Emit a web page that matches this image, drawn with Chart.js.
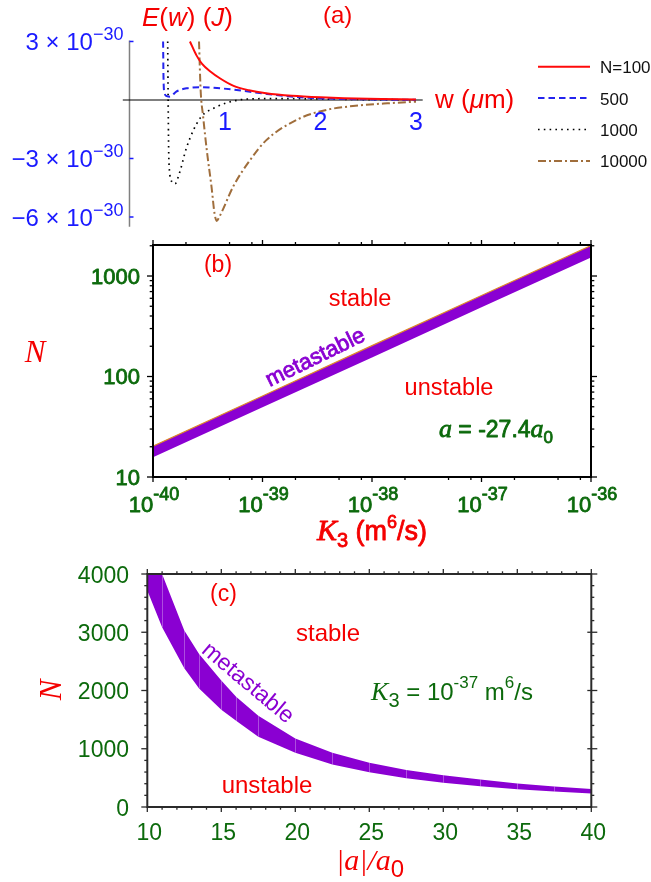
<!DOCTYPE html>
<html><head><meta charset="utf-8">
<script src="https://cdn.jsdelivr.net/npm/chart.js@4.4.1/dist/chart.umd.min.js"></script>
<style>
html,body{margin:0;padding:0;background:#fff;}
#wrap{position:relative;width:651px;height:882px;overflow:hidden;background:#fff;}
canvas{position:absolute;left:0;}
</style></head><body>
<div id="wrap">
<canvas id="ca" width="651" height="235" style="top:0"></canvas>
<canvas id="cb" width="651" height="325" style="top:235px"></canvas>
<canvas id="cc" width="651" height="322" style="top:560px"></canvas>
</div>
<script>
// ---------- DATA ----------
// Panel (a): E(w) in units of 1e-30 J versus w in micrometres
const wN100  = [0.633, 0.70, 0.76, 0.85, 0.95, 1.09, 1.25, 1.43, 1.70, 2.00, 2.50, 3.00];
const eN100  = [3.00, 2.30, 1.85, 1.45, 1.10, 0.72, 0.50, 0.35, 0.22, 0.14, 0.06, 0.03];
const wN500  = [0.352, 0.356, 0.365, 0.39, 0.424, 0.49, 0.60, 0.75, 0.95, 1.09, 1.44, 1.79, 2.10, 2.50, 3.00];
const eN500  = [3.00, 1.20, 0.40, 0.20, 0.17, 0.43, 0.60, 0.66, 0.60, 0.53, 0.31, 0.14, 0.07, 0.03, 0.01];
const wN1000 = [0.400, 0.404, 0.41, 0.42, 0.445, 0.476, 0.52, 0.60, 0.74, 0.91, 1.09, 1.30, 1.60, 2.00, 2.50, 3.00];
const eN1000 = [3.00, 0.50, -2.50, -3.70, -4.20, -4.30, -3.80, -2.40, -0.93, -0.36, -0.05, 0.06, 0.07, 0.05, 0.02, 0.01];
const wN10000 = [0.728, 0.745, 0.77, 0.81, 0.86, 0.89, 0.913, 0.94, 1.09, 1.26, 1.43, 1.78, 2.07, 2.34, 2.70, 3.00];
const eN10000 = [3.00, 0.50, -0.80, -2.60, -4.50, -5.80, -6.20, -6.00, -4.40, -3.10, -2.07, -0.95, -0.50, -0.31, -0.17, -0.09];
const seriesLabelsA = ['N=100', '500', '1000', '10000'];
const yTickValsA = [3, -3, -6];
const yTickMantA = ['3', '\u22123', '\u22126'];
const yTickExpA = '\u221230';
const xTickValsA = [1, 2, 3];

// Panel (b): N boundaries versus K3 (m^6/s), a = -27.4 a0
const k3B = [1e-40, 1e-39, 1e-38, 1e-37, 1e-36];
const nUpperB = [20.3, 64, 203, 640, 2010];
const nLowerB = [15.7, 49.5, 155, 488, 1530];
const xTickExpB = [-40, -39, -38, -37, -36];
const yTicksB = [10, 100, 1000];

// Panel (c): N boundaries versus |a|/a0, K3 = 1e-37 m^6/s
const aC = [10, 11, 12.5, 13.5, 15, 16, 17.5, 20, 22.5, 25, 27.5, 30, 32.5, 35, 37.5, 40];
const nUpperC = [4000, 4000, 3030, 2625, 2170, 1893, 1565, 1178, 933, 761, 635, 545, 470, 405, 350, 310];
const nLowerC = [3715, 3085, 2383, 2034, 1668, 1480, 1207, 932, 730, 598, 492, 418, 355, 305, 265, 230];
const xTicksC = [10, 15, 20, 25, 30, 35, 40];
const yTicksC = [0, 1000, 2000, 3000, 4000];

// ---------- HELPERS ----------
const SANS = '"Liberation Sans", Arial, Helvetica, sans-serif';
const SERIF = '"Liberation Serif", "Times New Roman", serif';
const RED = '#f40000', GREEN = '#0c6a0c', BLUE = '#1a1aff', PURPLE = '#8a00d2', BROWN = '#a06e3c';
function pts(xs, ys){ return xs.map((x,i)=>({x:x, y:ys[i]})); }
// parts: [text, font, dy, extraSpace]; heavy = stroke width for a semi-bold look
function rich(ctx, parts, x, y, align, color, heavy){
  ctx.save();
  ctx.textBaseline = 'alphabetic'; ctx.textAlign = 'left'; ctx.fillStyle = color;
  ctx.strokeStyle = color; ctx.lineWidth = heavy || 0; ctx.lineJoin = 'round';
  let w = 0;
  parts.forEach(p=>{ ctx.font = p[1]; w += ctx.measureText(p[0]).width + (p[3]||0); });
  let cx = align === 'center' ? x - w/2 : (align === 'right' ? x - w : x);
  parts.forEach(p=>{
    ctx.font = p[1]; ctx.fillText(p[0], cx, y + (p[2]||0));
    if (heavy) ctx.strokeText(p[0], cx, y + (p[2]||0));
    cx += ctx.measureText(p[0]).width + (p[3]||0);
  });
  ctx.restore();
}
function rotText(ctx, txt, font, color, cx, cy, deg, heavy){
  ctx.save(); ctx.translate(cx, cy); ctx.rotate(deg*Math.PI/180);
  ctx.font = font; ctx.fillStyle = color; ctx.strokeStyle = color; ctx.lineWidth = heavy || 0;
  ctx.textAlign = 'center'; ctx.textBaseline = 'middle';
  ctx.fillText(txt, 0, 0); if (heavy) ctx.strokeText(txt, 0, 0); ctx.restore();
}
function line(ctx, x1, y1, x2, y2){ ctx.beginPath(); ctx.moveTo(x1,y1); ctx.lineTo(x2,y2); ctx.stroke(); }
const common = {responsive:false, animation:false, events:[],
  plugins:{legend:{display:false}, tooltip:{enabled:false}}};

// ---------- PANEL (a) ----------
const plugA = {
  id:'plugA',
  beforeDatasetsDraw(chart){
    const {ctx, chartArea:ca, scales:{x, y}} = chart;
    const x0 = x.getPixelForValue(0), y0 = y.getPixelForValue(0);
    ctx.save();
    ctx.strokeStyle = '#808080'; ctx.lineWidth = 1.5; line(ctx, x0, ca.top, x0, ca.bottom);
    ctx.strokeStyle = '#000'; ctx.lineWidth = 1.2; line(ctx, ca.left, y0, ca.right, y0);
    ctx.strokeStyle = BLUE; ctx.lineWidth = 1.5;
    yTickValsA.forEach(v=>{ const py = y.getPixelForValue(v); line(ctx, x0, py, x0+4, py); });
    ctx.restore();
  },
  afterDraw(chart){
    const {ctx, scales:{x, y}} = chart;
    const x0 = x.getPixelForValue(0);
    yTickValsA.forEach((v,i)=>{
      const py = y.getPixelForValue(v);
      rich(ctx, [[yTickMantA[i] + ' \u00d7 10', '24px '+SANS], [yTickExpA, '18px '+SANS, -10]], x0-6, py+9, 'right', BLUE);
    });
    xTickValsA.forEach(v=>{
      rich(ctx, [[String(v), '25px '+SANS]], x.getPixelForValue(v), 130, 'center', BLUE);
    });
    rich(ctx, [['E','italic 26px '+SANS],['(','26px '+SANS],['w','italic 26px '+SANS],[')','26px '+SANS],[' (','26px '+SANS],['J','italic 26px '+SANS],[')','26px '+SANS]], 142, 26, 'left', RED);
    rich(ctx, [['(a)','24px '+SANS]], 323, 23, 'left', RED);
    rich(ctx, [['w (','26px '+SANS],['\u03bc','italic 26px '+SANS],['m)','26px '+SANS]], 435, 108, 'left', RED);
    chart.data.datasets.forEach((ds,i)=>{
      const ly = 66.7 + i*31.4;
      ctx.save();
      ctx.strokeStyle = ds.borderColor; ctx.lineWidth = ds.borderWidth; ctx.setLineDash(ds.borderDash || []);
      line(ctx, 538, ly, 590, ly);
      ctx.restore();
      rich(ctx, [[ds.label, '17px '+SANS]], 600, ly+6.5, 'left', '#111');
    });
  }
};
new Chart(document.getElementById('ca'), {
  type:'line',
  data:{datasets:[
    {label:seriesLabelsA[0], data:pts(wN100, eN100), borderColor:'#ff0a0a', borderWidth:2, pointRadius:0, cubicInterpolationMode:'monotone', fill:false},
    {label:seriesLabelsA[1], data:pts(wN500, eN500), borderColor:'#2424ee', borderWidth:2, borderDash:[6.5,4], pointRadius:0, cubicInterpolationMode:'monotone', fill:false},
    {label:seriesLabelsA[2], data:pts(wN1000, eN1000), borderColor:'#000', borderWidth:1.7, borderDash:[1.6,4.2], pointRadius:0, cubicInterpolationMode:'monotone', fill:false},
    {label:seriesLabelsA[3], data:pts(wN10000, eN10000), borderColor:BROWN, borderWidth:2, borderDash:[8,3,2,3], pointRadius:0, cubicInterpolationMode:'monotone', fill:false}
  ]},
  options:Object.assign({}, common, {
    layout:{padding:{left:122.8, right:651-422.7, top:40.5, bottom:235-226.75}},
    scales:{x:{type:'linear', min:-0.07, max:3.07, display:false}, y:{type:'linear', min:-6.5, max:3.05, display:false}}
  }),
  plugins:[plugA]
});

// ---------- PANEL (b) ----------
const plugB = {
  id:'plugB',
  afterDraw(chart){
    const {ctx, chartArea:ca, scales:{x, y}} = chart;
    ctx.save();
    ctx.strokeStyle = '#000'; ctx.lineWidth = 2;
    ctx.strokeRect(ca.left, ca.top, ca.right-ca.left, ca.bottom-ca.top);
    ctx.lineWidth = 1.3;
    for (let e = -40; e <= -36; e++){
      const px = x.getPixelForValue(Math.pow(10, e));
      line(ctx, px, ca.bottom, px, ca.bottom+5); line(ctx, px, ca.top, px, ca.top-5);
      if (e < -36) [2,5,8].forEach(m=>{
        const q = x.getPixelForValue(m*Math.pow(10, e));
        line(ctx, q, ca.bottom, q, ca.bottom+3); line(ctx, q, ca.top, q, ca.top-3);
      });
    }
    [10,100,1000].forEach(d=>{
      const py = y.getPixelForValue(d);
      line(ctx, ca.left, py, ca.left-6, py); line(ctx, ca.right, py, ca.right+6, py);
      for (let m = 2; m <= 9; m++){
        const v = m*d; if (v > y.max) break;
        const q = y.getPixelForValue(v);
        line(ctx, ca.left, q, ca.left-3.3, q); line(ctx, ca.right, q, ca.right+3.3, q);
      }
    });
    ctx.restore();
    yTicksB.forEach(v=>{ rich(ctx, [[String(v), '22px '+SANS]], 140, y.getPixelForValue(v)+7.5, 'right', GREEN, 0.8); });
    xTickExpB.forEach(e=>{
      rich(ctx, [['10', '22px '+SANS], [String(e), '18px '+SANS, -12]], x.getPixelForValue(Math.pow(10,e))+1, 277, 'center', GREEN, 0.8);
    });
    rich(ctx, [['K','italic 30px '+SERIF],['3','20px '+SANS, 7],[' (m','27px '+SANS],['6','18px '+SANS,-12],['/s)','27px '+SANS]], 372, 305, 'center', RED, 0.8);
    rich(ctx, [['N','italic 31px '+SERIF]], 35, 127, 'center', RED);
    rich(ctx, [['(b)','23px '+SANS]], 218, 37, 'center', RED);
    rich(ctx, [['stable','23.5px '+SANS]], 360, 71, 'center', RED);
    rich(ctx, [['unstable','23.5px '+SANS]], 449, 160, 'center', RED);
    rotText(ctx, 'metastable', '22px '+SANS, PURPLE, 315.5, 123, -26, 0.8);
    rich(ctx, [['a','italic 26px '+SERIF],[' = -27.4','23px '+SANS],['a','italic 26px '+SERIF],['0','17px '+SANS, 6]], 496, 202, 'center', GREEN, 0.8);
  }
};
new Chart(document.getElementById('cb'), {
  type:'line',
  data:{datasets:[
    {label:'upper', data:pts(k3B, nUpperB), borderColor:'#e0892a', borderWidth:1.2, backgroundColor:PURPLE, fill:'+1', pointRadius:0, tension:0},
    {label:'lower', data:pts(k3B, nLowerB), borderColor:PURPLE, borderWidth:0, pointRadius:0, fill:false, tension:0}
  ]},
  options:Object.assign({}, common, {
    layout:{padding:{left:153, right:60, top:10, bottom:83}},
    scales:{x:{type:'logarithmic', min:1e-40, max:1e-36, display:false}, y:{type:'logarithmic', min:10, max:2035, display:false}}
  }),
  plugins:[plugB]
});

// ---------- PANEL (c) ----------
const plugC = {
  id:'plugC',
  afterDatasetsDraw(chart){
    const {ctx, scales:{x, y}} = chart;
    ctx.save(); ctx.strokeStyle = 'rgba(255,255,255,0.3)'; ctx.lineWidth = 1;
    aC.forEach((a,i)=>{
      if (i === 0 || i === aC.length-1) return;
      const px = Math.round(x.getPixelForValue(a)) + 0.5;
      line(ctx, px, y.getPixelForValue(nUpperC[i]), px, y.getPixelForValue(nLowerC[i]));
    });
    ctx.restore();
  },
  afterDraw(chart){
    const {ctx, chartArea:ca, scales:{x, y}} = chart;
    ctx.save();
    ctx.strokeStyle = '#2a2a2a'; ctx.lineWidth = 2;
    ctx.strokeRect(ca.left, ca.top, ca.right-ca.left, ca.bottom-ca.top);
    ctx.lineWidth = 1.3;
    for (let v = 10; v <= 40; v++){
      const px = x.getPixelForValue(v), big = v % 5 === 0;
      line(ctx, px, ca.bottom, px, ca.bottom + (big ? 5 : 2.7));
      line(ctx, px, ca.top, px, ca.top - (big ? 5 : 2.7));
    }
    for (let v = 0; v <= 4000; v += 200){
      const py = y.getPixelForValue(v), big = v % 1000 === 0;
      line(ctx, ca.left, py, ca.left - (big ? 6 : 3), py);
      line(ctx, ca.right - (big ? 4 : 0), py, ca.right + (big ? 6 : 3), py);
    }
    ctx.restore();
    yTicksC.forEach(v=>{ rich(ctx, [[String(v), '23px '+SANS]], 129, y.getPixelForValue(v)+8.5, 'right', GREEN); });
    xTicksC.forEach(v=>{ rich(ctx, [[String(v), '23px '+SANS]], x.getPixelForValue(v)+2, 280, 'center', GREEN); });
    rich(ctx, [['|a|/a','italic 30px '+SERIF],['0','24px '+SANS, 7]], 370, 310, 'center', RED);
    ctx.save(); ctx.translate(51, 130); ctx.rotate(-Math.PI/2);
    rich(ctx, [['N','italic 31px '+SERIF]], 0, 10, 'center', RED); ctx.restore();
    rich(ctx, [['(c)','23px '+SANS]], 223.5, 41, 'center', RED);
    rich(ctx, [['stable','24px '+SANS]], 328, 81, 'center', RED);
    rich(ctx, [['unstable','24px '+SANS]], 267, 233, 'center', RED);
    rotText(ctx, 'metastable', '23px '+SANS, PURPLE, 247.6, 123.3, 40);
    rich(ctx, [['K','italic 26px '+SERIF],['3','20px '+SANS,7],[' = 10','24px '+SANS],['-37','17px '+SANS,-12],[' m','24px '+SANS],['6','17px '+SANS,-12],['/s','24px '+SANS]], 452, 140, 'center', GREEN);
  }
};
new Chart(document.getElementById('cc'), {
  type:'line',
  data:{datasets:[
    {label:'upper', data:pts(aC, nUpperC), borderColor:PURPLE, borderWidth:0, backgroundColor:PURPLE, fill:'+1', pointRadius:0, tension:0},
    {label:'lower', data:pts(aC, nLowerC), borderColor:PURPLE, borderWidth:0, pointRadius:0, fill:false, tension:0}
  ]},
  options:Object.assign({}, common, {
    layout:{padding:{left:147.3, right:651-591.3, top:14, bottom:322-247}},
    scales:{x:{type:'linear', min:10, max:40, display:false}, y:{type:'linear', min:0, max:4000, display:false}}
  }),
  plugins:[plugC]
});
</script>
</body></html>
